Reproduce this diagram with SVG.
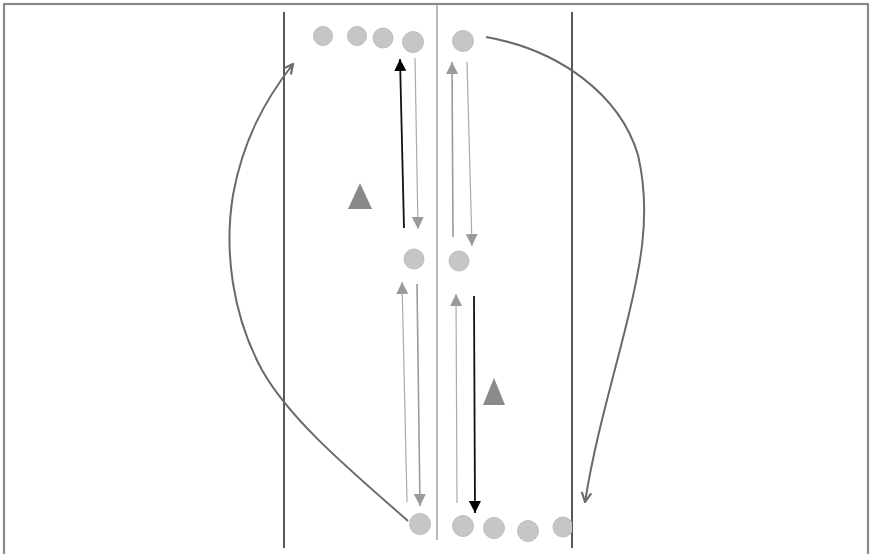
<svg xmlns="http://www.w3.org/2000/svg" width="870" height="554" viewBox="0 0 870 554">
<style>
.ball{fill:#c6c6c6;stroke:#bdbdbd;stroke-width:1}
.ga{stroke:#9a9a9a;stroke-width:1.6;fill:none;marker-end:url(#hg)}
.gb{stroke:#aaaaaa;stroke-width:1.2;fill:none;marker-end:url(#hg)}
.ba{stroke:#111;stroke-width:1.8;fill:none;marker-end:url(#hb)}
.cv{stroke:#6a6a6a;stroke-width:2;fill:none;marker-end:url(#hv)}
.cone{fill:#8a8a8a}
</style>
<defs>
<marker id="hg" viewBox="0 0 10 10" refX="10" refY="5" markerWidth="12" markerHeight="12" markerUnits="userSpaceOnUse" orient="auto"><path d="M0,0 L10,5 L0,10 z" fill="#9a9a9a"/></marker>
<marker id="hb" viewBox="0 0 10 10" refX="10" refY="5" markerWidth="12" markerHeight="12" markerUnits="userSpaceOnUse" orient="auto"><path d="M0,0 L10,5 L0,10 z" fill="#000"/></marker>
<marker id="hv" viewBox="0 0 10 10" refX="9" refY="5" markerWidth="12" markerHeight="12" markerUnits="userSpaceOnUse" orient="auto"><path d="M1,1 L9,5 L1,9" fill="none" stroke="#6a6a6a" stroke-width="1.8"/></marker>
<clipPath id="cut"><rect x="540" y="500" width="32" height="50"/></clipPath>
</defs>
<rect x="0" y="0" width="870" height="554" fill="#fff"/>
<rect x="4" y="4" width="864" height="560" fill="none" stroke="#8a8a8a" stroke-width="2.2"/>
<g id="lines">
<line x1="284" y1="12" x2="284" y2="548" stroke="#111" stroke-width="1.4"/>
<line x1="437" y1="4" x2="437" y2="540" stroke="#999" stroke-width="1.4"/>
<line x1="572" y1="12" x2="572" y2="548" stroke="#111" stroke-width="1.4"/>
</g>
<g id="top-balls">
<circle class="ball" cx="323" cy="36" r="9.5"/>
<circle class="ball" cx="357" cy="36" r="9.5"/>
<circle class="ball" cx="383" cy="38" r="10"/>
<circle class="ball" cx="413" cy="42" r="10.5"/>
<circle class="ball" cx="463" cy="41" r="10.5"/>
</g>
<g id="mid-balls">
<circle class="ball" cx="414" cy="259" r="10"/>
<circle class="ball" cx="459" cy="261" r="10"/>
</g>
<g id="bottom-balls">
<circle class="ball" cx="420" cy="524" r="10.5"/>
<circle class="ball" cx="463" cy="526" r="10.5"/>
<circle class="ball" cx="494" cy="528" r="10.5"/>
<circle class="ball" cx="528" cy="531" r="10.5"/>
<circle class="ball" cx="563" cy="527" r="10" clip-path="url(#cut)"/>
</g>
<g id="cones">
<polygon class="cone" points="360,183 372,209 348,209"/>
<polygon class="cone" points="494,378 505,405 483,405"/>
</g>
<g id="connectors">
<line class="ba" x1="404" y1="228" x2="400" y2="59"/>
<line class="gb" x1="415" y1="58" x2="418" y2="229"/>
<line class="ga" x1="453" y1="237" x2="452" y2="62"/>
<line class="gb" x1="467" y1="62" x2="472" y2="246"/>
<line class="gb" x1="407" y1="502" x2="402" y2="282"/>
<line class="ga" x1="417" y1="284" x2="420" y2="506"/>
<line class="gb" x1="457" y1="503" x2="456" y2="294"/>
<line class="ba" x1="474" y1="296" x2="475" y2="513"/>
<path class="cv" d="M408,521 C350,470 290,420 262,370 C232,315 224,250 233,195 C243,140 265,100 293,64"/>
<path class="cv" d="M486,37 C560,50 620,95 638,155 C652,215 640,270 625,330 C610,390 595,440 585,502"/>
</g>
</svg>
